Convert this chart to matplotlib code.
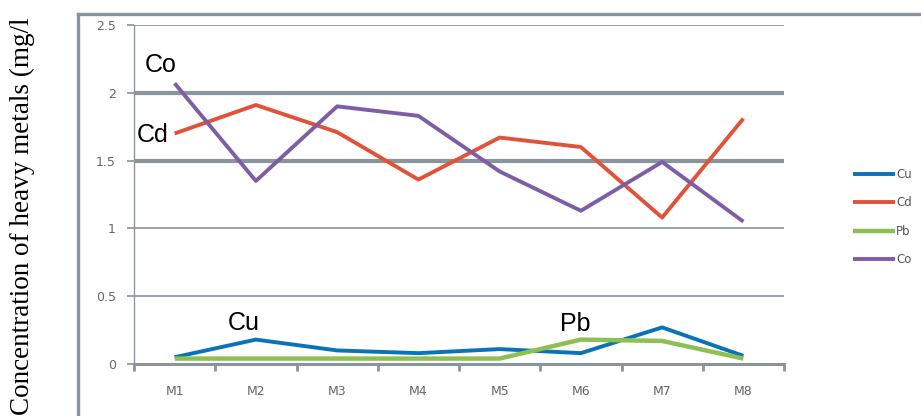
import numpy as np
import matplotlib.pyplot as plt
from matplotlib.lines import Line2D

sites = ["M1", "M2", "M3", "M4", "M5", "M6", "M7", "M8"]
cu = [0.05, 0.18, 0.10, 0.08, 0.11, 0.08, 0.27, 0.06]
cd = [1.70, 1.91, 1.71, 1.36, 1.67, 1.60, 1.08, 1.81]
pb = [0.04, 0.04, 0.04, 0.04, 0.04, 0.18, 0.17, 0.04]
co = [2.07, 1.35, 1.90, 1.83, 1.42, 1.13, 1.49, 1.05]
y_ticks = [0, 0.5, 1, 1.5, 2, 2.5]

colors = {"Cu": "#0a72b8", "Cd": "#e0533a", "Pb": "#8cc152", "Co": "#7d5ea6"}
grid_col = "#8a949c"

fig = plt.figure(figsize=(9.21, 4.16), dpi=100)
ax = fig.add_axes([134 / 921, 52 / 416, 650 / 921, 339 / 416])

x = np.arange(len(sites))
lines = []
for name, vals, lw in [("Cu", cu, 2.8), ("Cd", cd, 2.8), ("Pb", pb, 3.2), ("Co", co, 2.8)]:
    ln, = ax.plot(x, vals, color=colors[name], lw=lw, label=name, zorder=3,
                  solid_capstyle="butt")
    lines.append(ln)

ax.set_xlim(-0.5, len(sites) - 0.5)
ax.set_ylim(0, 2.5)

# gridlines, the 2 and 1.5 ones drawn heavier
for v in y_ticks[1:]:
    lw = 3.0 if v in (1.5, 2) else 1.2
    ax.axhline(v, color=grid_col, lw=lw, zorder=1)

for s in ["top", "right"]:
    ax.spines[s].set_visible(False)
ax.spines["left"].set_color(grid_col)
ax.spines["left"].set_linewidth(1.0)
ax.spines["bottom"].set_color(grid_col)
ax.spines["bottom"].set_linewidth(2.2)

ax.set_yticks(y_ticks)
ax.set_yticklabels(["0", "0.5", "1", "1.5", "2", "2.5"])
ax.tick_params(axis="y", length=5, width=1.2, color=grid_col, labelsize=9,
               labelcolor="#666666", pad=8)
ax.set_xticks(x)
ax.set_xticklabels(sites)
ax.set_xticks(np.arange(-0.5, len(sites)), minor=True)
ax.tick_params(axis="x", which="major", length=0, labelsize=9,
               labelcolor="#666666", pad=15)
ax.tick_params(axis="x", which="minor", length=5, width=2, color=grid_col)

# in-plot labels
lab = dict(fontsize=18, family="Liberation Sans", va="baseline")
ax.text(-0.365, 2.15, "Co", **lab)
ax.text(-0.463, 1.64, "Cd", **lab)
ax.text(0.657, 0.25, "Cu", **lab)
ax.text(4.74, 0.243, "Pb", **lab)

fig.legend(handles=lines, labels=["Cu", "Cd", "Pb", "Co"], loc="center left",
           bbox_to_anchor=(842 / 921, 1 - 217 / 416), frameon=False, fontsize=8.5,
           handlelength=3.6, handletextpad=0.1, labelspacing=1.3,
           labelcolor="#555555")

# outer frame
fig.add_artist(Line2D([78 / 921, 78 / 921], [0, 1 - 14 / 416], transform=fig.transFigure,
                      color=grid_col, lw=2.4))
fig.add_artist(Line2D([78 / 921, 1], [1 - 14 / 416, 1 - 14 / 416], transform=fig.transFigure,
                      color=grid_col, lw=2.4))

fig.text(22 / 921, 0.003, "Concentration of heavy metals (mg/l", rotation=90,
         ha="center", va="bottom", fontsize=19.5, family="Liberation Serif")

fig.savefig("out.png", dpi=100)
